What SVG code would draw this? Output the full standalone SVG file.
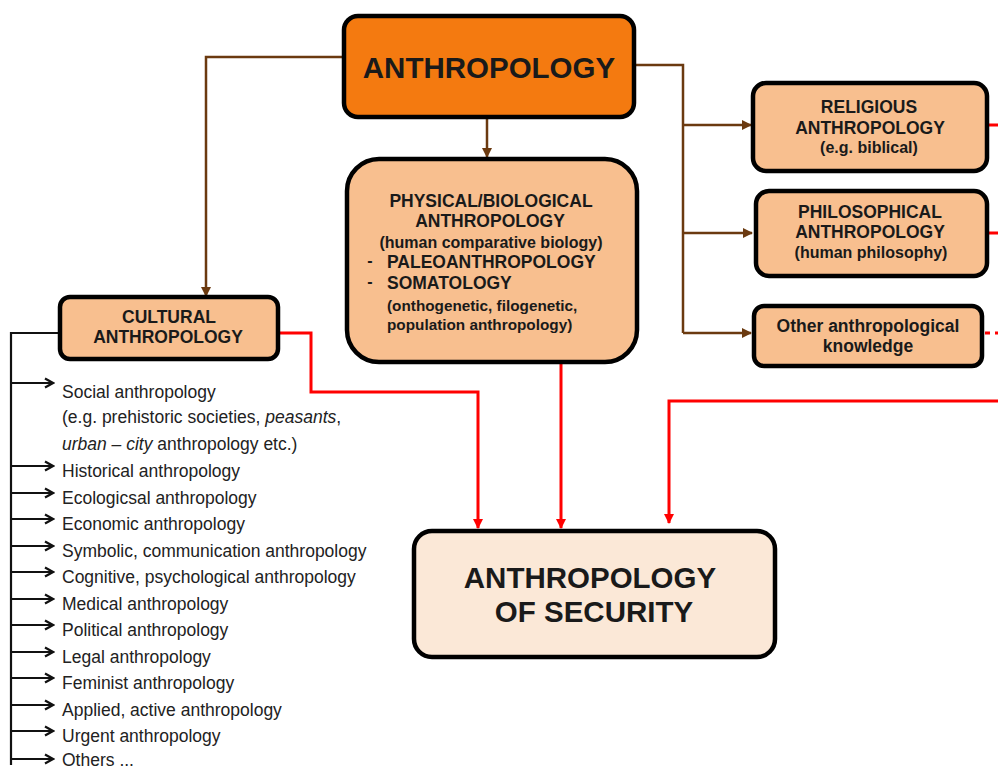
<svg xmlns="http://www.w3.org/2000/svg" width="998" height="769" viewBox="0 0 998 769">
<defs>
<marker id="ab" markerWidth="10" markerHeight="10" refX="9" refY="5" orient="auto" markerUnits="userSpaceOnUse"><path d="M0,0 L10,5 L0,10 Z" fill="#6b3a10"/></marker>
<marker id="ar" markerWidth="10" markerHeight="10" refX="9" refY="5" orient="auto" markerUnits="userSpaceOnUse"><path d="M0,0 L10,5 L0,10 Z" fill="#ff0000"/></marker>
<marker id="ak" markerWidth="12" markerHeight="12" refX="10" refY="6" orient="auto" markerUnits="userSpaceOnUse"><path d="M2,1.5 L10,6 L2,10.5" fill="none" stroke="#111" stroke-width="2.2"/></marker>
</defs>
<style>
.box{stroke:#000;stroke-width:4.5}
.peach{fill:#f8bf8f}
.t{font-family:"Liberation Sans",Arial,sans-serif;font-weight:bold;fill:#1a1a1a;text-anchor:middle}
.st{text-anchor:start}
.h{font-size:17.5px}
.s{font-size:16px}
.s2{font-size:15.3px}
.l{font-family:"Liberation Sans",Arial,sans-serif;font-size:17.5px;fill:#222}
.brown{stroke:#6b3a10;stroke-width:2.5;fill:none}
.red{stroke:#ff0000;stroke-width:3;fill:none}
.blk{stroke:#111;stroke-width:2.2;fill:none}
</style>
<rect width="998" height="769" fill="#fff"/>
<g id="connectors">
<path class="brown" d="M344,57 H206 V296" marker-end="url(#ab)"/>
<path class="brown" d="M487,118 V157" marker-end="url(#ab)"/>
<path class="brown" d="M634,65 H683 V333"/>
<path class="brown" d="M683,125 H751" marker-end="url(#ab)"/>
<path class="brown" d="M683,233 H752" marker-end="url(#ab)"/>
<path class="brown" d="M683,333 H751" marker-end="url(#ab)"/>
<path class="red" d="M279,333 H311 V392 H478 V528" marker-end="url(#ar)"/>
<path class="red" d="M561,363 V528" marker-end="url(#ar)"/>
<path class="red" d="M998,401 H669 V523" marker-end="url(#ar)"/>
<path class="red" d="M988,125 H998"/>
<path class="red" d="M988,233 H998"/>
<path class="red" d="M983,333 H998" stroke-dasharray="5,5" stroke-dashoffset="-2"/>
<path class="blk" d="M59,333 H11 V765"/>
<g class="blk">
<path d="M11,383 H53" marker-end="url(#ak)"/>
<path d="M11,466 H53" marker-end="url(#ak)"/>
<path d="M11,493 H53" marker-end="url(#ak)"/>
<path d="M11,519 H53" marker-end="url(#ak)"/>
<path d="M11,546 H53" marker-end="url(#ak)"/>
<path d="M11,572 H53" marker-end="url(#ak)"/>
<path d="M11,599 H53" marker-end="url(#ak)"/>
<path d="M11,625 H53" marker-end="url(#ak)"/>
<path d="M11,652 H53" marker-end="url(#ak)"/>
<path d="M11,678 H53" marker-end="url(#ak)"/>
<path d="M11,705 H53" marker-end="url(#ak)"/>
<path d="M11,731 H53" marker-end="url(#ak)"/>
<path d="M11,759 H53" marker-end="url(#ak)"/>
</g>
</g>
<g id="anthropology">
<rect class="box" x="344" y="16" width="290" height="101" rx="14" fill="#f47a10"/>
<text class="t" x="489" y="78" font-size="29.5">ANTHROPOLOGY</text>
</g>
<g id="physical">
<rect class="box peach" x="347" y="159" width="290" height="203" rx="32"/>
<text class="t h" x="491" y="207">PHYSICAL/BIOLOGICAL</text>
<text class="t h" x="490" y="227">ANTHROPOLOGY</text>
<text class="t s" x="491" y="248">(human comparative biology)</text>
<text class="t s" x="370" y="266">-</text>
<text class="t h st" x="387" y="268">PALEOANTHROPOLOGY</text>
<text class="t s" x="370" y="287">-</text>
<text class="t h st" x="387" y="289">SOMATOLOGY</text>
<text class="t s2 st" x="387" y="311">(onthogenetic, filogenetic,</text>
<text class="t s2 st" x="387" y="330">population anthropology)</text>
</g>
<g id="religious">
<rect class="box peach" x="753" y="83" width="234" height="88" rx="13"/>
<text class="t h" x="869" y="113">RELIGIOUS</text>
<text class="t h" x="870" y="134">ANTHROPOLOGY</text>
<text class="t s" x="869" y="153">(e.g. biblical)</text>
</g>
<g id="philosophical">
<rect class="box peach" x="756" y="191" width="231" height="85" rx="13"/>
<text class="t h" x="870" y="218">PHILOSOPHICAL</text>
<text class="t h" x="870" y="238">ANTHROPOLOGY</text>
<text class="t s" x="871" y="258">(human philosophy)</text>
</g>
<g id="other">
<rect class="box peach" x="754" y="306" width="228" height="60" rx="10"/>
<text class="t h" x="868" y="332">Other anthropological</text>
<text class="t h" x="868" y="352">knowledge</text>
</g>
<g id="cultural">
<rect class="box peach" x="60" y="297" width="218" height="62" rx="10"/>
<text class="t h" x="169" y="323">CULTURAL</text>
<text class="t h" x="168" y="343">ANTHROPOLOGY</text>
</g>
<g id="security">
<rect class="box" x="414" y="531" width="361" height="126" rx="18" fill="#fbe8d7"/>
<text class="t" x="590" y="588" font-size="29.5">ANTHROPOLOGY</text>
<text class="t" x="594" y="622" font-size="29.5">OF SECURITY</text>
</g>
<g id="list">
<text class="l" x="62" y="398">Social anthropology</text>
<text class="l" x="62" y="423" font-size="16">(e.g. prehistoric societies, <tspan font-style="italic">peasants</tspan>,</text>
<text class="l" x="62" y="450" font-size="16"><tspan font-style="italic">urban – city</tspan> anthropology etc.)</text>
<text class="l" x="62" y="477">Historical anthropology</text>
<text class="l" x="62" y="504">Ecologicsal anthropology</text>
<text class="l" x="62" y="530">Economic anthropology</text>
<text class="l" x="62" y="557">Symbolic, communication anthropology</text>
<text class="l" x="62" y="583">Cognitive, psychological anthropology</text>
<text class="l" x="62" y="610">Medical anthropology</text>
<text class="l" x="62" y="636">Political anthropology</text>
<text class="l" x="62" y="663">Legal anthropology</text>
<text class="l" x="62" y="689">Feminist anthropology</text>
<text class="l" x="62" y="716">Applied, active anthropology</text>
<text class="l" x="62" y="742">Urgent anthropology</text>
<text class="l" x="62" y="766">Others ...</text>
</g>
</svg>
